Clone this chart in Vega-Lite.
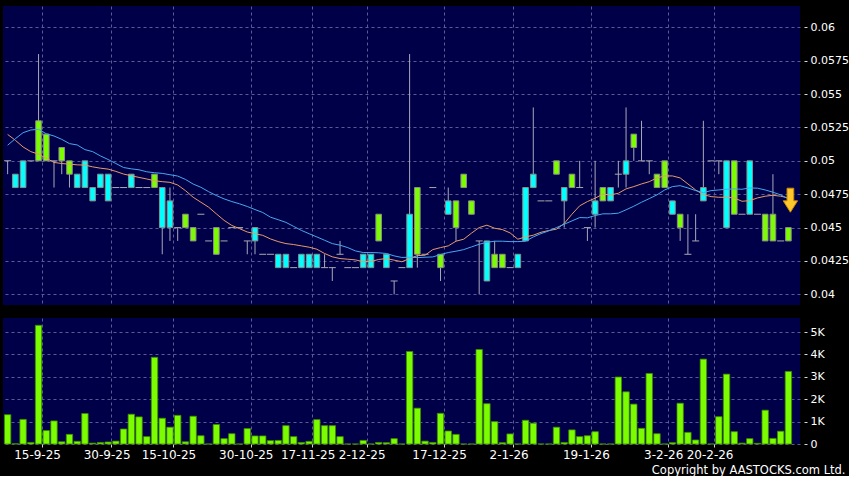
{
"$schema":"https://vega.github.io/schema/vega-lite/v6.json",
"padding":{"left":3,"top":6,"right":0,"bottom":0},
"background":"#000000",
"spacing":13,
"config":{"view":{"fill":"#000048","stroke":null},"font":"DejaVu Sans",
"axis":{"gridColor":"#5a5a96","gridDash":[3,3],"gridWidth":1,"labelColor":"#ffffff","tickColor":"#d8d8d8","domain":false,"labelFont":"DejaVu Sans","labelFontSize":11}},
"datasets":{"k":[
{"d":"9-9-25","o":0.05,"h":0.05,"l":0.049,"c":0.05,"v":1310,"m1":0.05198,"m2":0.05117},
{"d":"10-9-25","o":0.049,"h":0.049,"l":0.048,"c":0.048,"v":10,"m1":0.05154,"m2":0.05166},
{"d":"11-9-25","o":0.05,"h":0.05,"l":0.048,"c":0.048,"v":1100,"m1":0.05104,"m2":0.05211},
{"d":"12-9-25","o":0.05,"h":0.05,"l":0.05,"c":0.05,"v":70,"m1":0.05069,"m2":0.05231},
{"d":"15-9-25","o":0.05,"h":0.058,"l":0.05,"c":0.053,"v":5300,"m1":0.0505,"m2":0.05236},
{"d":"16-9-25","o":0.05,"h":0.052,"l":0.05,"c":0.052,"v":600,"m1":0.0502,"m2":0.05203},
{"d":"17-9-25","o":0.05,"h":0.05,"l":0.048,"c":0.05,"v":1030,"m1":0.04988,"m2":0.05186},
{"d":"18-9-25","o":0.05,"h":0.051,"l":0.049,"c":0.051,"v":100,"m1":0.0498,"m2":0.05161},
{"d":"19-9-25","o":0.049,"h":0.05,"l":0.048,"c":0.05,"v":430,"m1":0.04975,"m2":0.05129},
{"d":"22-9-25","o":0.049,"h":0.049,"l":0.048,"c":0.048,"v":120,"m1":0.0497,"m2":0.05119},
{"d":"23-9-25","o":0.05,"h":0.05,"l":0.048,"c":0.048,"v":1360,"m1":0.04968,"m2":0.05084},
{"d":"25-9-25","o":0.048,"h":0.048,"l":0.047,"c":0.047,"v":40,"m1":0.04955,"m2":0.05069},
{"d":"26-9-25","o":0.049,"h":0.049,"l":0.048,"c":0.048,"v":70,"m1":0.04945,"m2":0.05037},
{"d":"30-9-25","o":0.049,"h":0.049,"l":0.047,"c":0.047,"v":90,"m1":0.04938,"m2":0.0501},
{"d":"2-10-25","o":0.048,"h":0.048,"l":0.048,"c":0.048,"v":130,"m1":0.04921,"m2":0.0498},
{"d":"3-10-25","o":0.048,"h":0.048,"l":0.048,"c":0.048,"v":670,"m1":0.04901,"m2":0.0495},
{"d":"6-10-25","o":0.049,"h":0.049,"l":0.048,"c":0.048,"v":1330,"m1":0.04888,"m2":0.0494},
{"d":"8-10-25","o":0.048,"h":0.048,"l":0.048,"c":0.048,"v":1210,"m1":0.04876,"m2":0.04933},
{"d":"9-10-25","o":0.048,"h":0.048,"l":0.048,"c":0.048,"v":330,"m1":0.04864,"m2":0.04918},
{"d":"10-10-25","o":0.048,"h":0.049,"l":0.048,"c":0.049,"v":3870,"m1":0.04851,"m2":0.04911},
{"d":"13-10-25","o":0.048,"h":0.048,"l":0.043,"c":0.045,"v":1150,"m1":0.04844,"m2":0.04906},
{"d":"15-10-25","o":0.047,"h":0.048,"l":0.044,"c":0.045,"v":750,"m1":0.04839,"m2":0.04896},
{"d":"16-10-25","o":0.045,"h":0.045,"l":0.044,"c":0.045,"v":1280,"m1":0.04819,"m2":0.04886},
{"d":"17-10-25","o":0.045,"h":0.046,"l":0.045,"c":0.046,"v":100,"m1":0.04777,"m2":0.04861},
{"d":"20-10-25","o":0.044,"h":0.045,"l":0.044,"c":0.045,"v":1240,"m1":0.04727,"m2":0.04826},
{"d":"21-10-25","o":0.046,"h":0.046,"l":0.046,"c":0.046,"v":370,"m1":0.0469,"m2":0.04802},
{"d":"22-10-25","o":0.044,"h":0.044,"l":0.044,"c":0.044,"v":0,"m1":0.04653,"m2":0.04769},
{"d":"23-10-25","o":0.043,"h":0.045,"l":0.043,"c":0.045,"v":870,"m1":0.04603,"m2":0.0474},
{"d":"24-10-25","o":0.044,"h":0.044,"l":0.044,"c":0.044,"v":240,"m1":0.04554,"m2":0.04715},
{"d":"27-10-25","o":0.045,"h":0.045,"l":0.045,"c":0.045,"v":460,"m1":0.04516,"m2":0.04695},
{"d":"28-10-25","o":0.045,"h":0.045,"l":0.045,"c":0.045,"v":0,"m1":0.04492,"m2":0.04678},
{"d":"30-10-25","o":0.044,"h":0.044,"l":0.043,"c":0.044,"v":690,"m1":0.04467,"m2":0.04658},
{"d":"31-10-25","o":0.045,"h":0.045,"l":0.043,"c":0.044,"v":360,"m1":0.04454,"m2":0.04635},
{"d":"3-11-25","o":0.043,"h":0.043,"l":0.043,"c":0.043,"v":360,"m1":0.04442,"m2":0.04613},
{"d":"4-11-25","o":0.043,"h":0.043,"l":0.043,"c":0.043,"v":150,"m1":0.04415,"m2":0.04578},
{"d":"6-11-25","o":0.043,"h":0.043,"l":0.042,"c":0.042,"v":160,"m1":0.04395,"m2":0.04559},
{"d":"10-11-25","o":0.043,"h":0.043,"l":0.042,"c":0.042,"v":820,"m1":0.0438,"m2":0.04539},
{"d":"12-11-25","o":0.042,"h":0.042,"l":0.042,"c":0.042,"v":330,"m1":0.04373,"m2":0.04509},
{"d":"14-11-25","o":0.043,"h":0.043,"l":0.042,"c":0.042,"v":70,"m1":0.04363,"m2":0.04479},
{"d":"17-11-25","o":0.043,"h":0.043,"l":0.042,"c":0.042,"v":120,"m1":0.04353,"m2":0.04454},
{"d":"19-11-25","o":0.043,"h":0.043,"l":0.042,"c":0.042,"v":1090,"m1":0.04338,"m2":0.0443},
{"d":"20-11-25","o":0.042,"h":0.043,"l":0.042,"c":0.042,"v":820,"m1":0.04306,"m2":0.04405},
{"d":"24-11-25","o":0.042,"h":0.042,"l":0.041,"c":0.042,"v":820,"m1":0.04281,"m2":0.0438},
{"d":"26-11-25","o":0.043,"h":0.044,"l":0.043,"c":0.043,"v":330,"m1":0.04268,"m2":0.04368},
{"d":"28-11-25","o":0.042,"h":0.042,"l":0.042,"c":0.042,"v":0,"m1":0.04263,"m2":0.0435},
{"d":"1-12-25","o":0.042,"h":0.042,"l":0.042,"c":0.042,"v":0,"m1":0.04258,"m2":0.04325},
{"d":"2-12-25","o":0.043,"h":0.043,"l":0.042,"c":0.042,"v":160,"m1":0.04244,"m2":0.04313},
{"d":"3-12-25","o":0.043,"h":0.043,"l":0.042,"c":0.042,"v":0,"m1":0.04246,"m2":0.04313},
{"d":"4-12-25","o":0.044,"h":0.046,"l":0.044,"c":0.046,"v":70,"m1":0.04261,"m2":0.04311},
{"d":"5-12-25","o":0.043,"h":0.043,"l":0.042,"c":0.042,"v":60,"m1":0.04268,"m2":0.04306},
{"d":"8-12-25","o":0.041,"h":0.041,"l":0.04,"c":0.041,"v":240,"m1":0.04256,"m2":0.04288},
{"d":"9-12-25","o":0.042,"h":0.042,"l":0.042,"c":0.042,"v":0,"m1":0.04244,"m2":0.04276},
{"d":"10-12-25","o":0.046,"h":0.058,"l":0.042,"c":0.042,"v":4130,"m1":0.04268,"m2":0.04278},
{"d":"11-12-25","o":0.043,"h":0.048,"l":0.042,"c":0.048,"v":1600,"m1":0.0429,"m2":0.04275},
{"d":"12-12-25","o":0.043,"h":0.043,"l":0.043,"c":0.043,"v":130,"m1":0.04293,"m2":0.04278},
{"d":"15-12-25","o":0.048,"h":0.048,"l":0.048,"c":0.048,"v":70,"m1":0.04335,"m2":0.0428},
{"d":"17-12-25","o":0.042,"h":0.043,"l":0.041,"c":0.043,"v":1370,"m1":0.0435,"m2":0.04298},
{"d":"18-12-25","o":0.047,"h":0.048,"l":0.046,"c":0.046,"v":580,"m1":0.04363,"m2":0.04313},
{"d":"19-12-25","o":0.045,"h":0.047,"l":0.044,"c":0.047,"v":430,"m1":0.04398,"m2":0.04323},
{"d":"22-12-25","o":0.048,"h":0.049,"l":0.048,"c":0.049,"v":0,"m1":0.04413,"m2":0.04335},
{"d":"23-12-25","o":0.046,"h":0.047,"l":0.046,"c":0.047,"v":0,"m1":0.04458,"m2":0.04355},
{"d":"24-12-25","o":0.044,"h":0.044,"l":0.04,"c":0.044,"v":4220,"m1":0.045,"m2":0.04375},
{"d":"29-12-25","o":0.044,"h":0.044,"l":0.041,"c":0.041,"v":1800,"m1":0.04518,"m2":0.0439},
{"d":"30-12-25","o":0.042,"h":0.044,"l":0.042,"c":0.043,"v":1000,"m1":0.04495,"m2":0.04398},
{"d":"31-12-25","o":0.042,"h":0.043,"l":0.042,"c":0.043,"v":60,"m1":0.04485,"m2":0.04398},
{"d":"2-1-26","o":0.042,"h":0.042,"l":0.042,"c":0.042,"v":450,"m1":0.0446,"m2":0.04395},
{"d":"5-1-26","o":0.043,"h":0.043,"l":0.042,"c":0.042,"v":0,"m1":0.04413,"m2":0.04395},
{"d":"6-1-26","o":0.048,"h":0.048,"l":0.044,"c":0.044,"v":1060,"m1":0.0443,"m2":0.04398},
{"d":"7-1-26","o":0.049,"h":0.054,"l":0.048,"c":0.048,"v":930,"m1":0.04443,"m2":0.0443},
{"d":"8-1-26","o":0.047,"h":0.047,"l":0.047,"c":0.047,"v":0,"m1":0.04465,"m2":0.04455},
{"d":"9-1-26","o":0.047,"h":0.047,"l":0.047,"c":0.047,"v":0,"m1":0.04478,"m2":0.04475},
{"d":"12-1-26","o":0.049,"h":0.05,"l":0.049,"c":0.05,"v":750,"m1":0.04488,"m2":0.045},
{"d":"13-1-26","o":0.048,"h":0.048,"l":0.045,"c":0.047,"v":70,"m1":0.0453,"m2":0.04525},
{"d":"14-1-26","o":0.048,"h":0.049,"l":0.048,"c":0.049,"v":630,"m1":0.046,"m2":0.0455},
{"d":"15-1-26","o":0.048,"h":0.05,"l":0.048,"c":0.048,"v":330,"m1":0.04663,"m2":0.04575},
{"d":"19-1-26","o":0.045,"h":0.045,"l":0.044,"c":0.045,"v":370,"m1":0.04695,"m2":0.04573},
{"d":"20-1-26","o":0.047,"h":0.05,"l":0.045,"c":0.046,"v":550,"m1":0.0472,"m2":0.0459},
{"d":"21-1-26","o":0.047,"h":0.048,"l":0.047,"c":0.048,"v":0,"m1":0.0475,"m2":0.04603},
{"d":"22-1-26","o":0.048,"h":0.048,"l":0.047,"c":0.047,"v":0,"m1":0.04745,"m2":0.04603},
{"d":"23-1-26","o":0.049,"h":0.05,"l":0.048,"c":0.049,"v":2990,"m1":0.04757,"m2":0.04608},
{"d":"26-1-26","o":0.05,"h":0.054,"l":0.048,"c":0.049,"v":2330,"m1":0.0479,"m2":0.04633},
{"d":"27-1-26","o":0.051,"h":0.052,"l":0.05,"c":0.052,"v":1780,"m1":0.04807,"m2":0.0466},
{"d":"28-1-26","o":0.05,"h":0.053,"l":0.05,"c":0.05,"v":700,"m1":0.04827,"m2":0.0469},
{"d":"29-1-26","o":0.05,"h":0.05,"l":0.049,"c":0.05,"v":3150,"m1":0.04844,"m2":0.04717},
{"d":"30-1-26","o":0.048,"h":0.049,"l":0.048,"c":0.049,"v":460,"m1":0.04872,"m2":0.04745},
{"d":"3-2-26","o":0.048,"h":0.05,"l":0.048,"c":0.05,"v":0,"m1":0.04887,"m2":0.04782},
{"d":"5-2-26","o":0.047,"h":0.047,"l":0.046,"c":0.046,"v":60,"m1":0.04887,"m2":0.04807},
{"d":"9-2-26","o":0.045,"h":0.046,"l":0.044,"c":0.046,"v":1820,"m1":0.04872,"m2":0.04814},
{"d":"11-2-26","o":0.043,"h":0.046,"l":0.043,"c":0.043,"v":520,"m1":0.04827,"m2":0.04797},
{"d":"13-2-26","o":0.044,"h":0.046,"l":0.044,"c":0.044,"v":180,"m1":0.04782,"m2":0.04777},
{"d":"16-2-26","o":0.048,"h":0.053,"l":0.047,"c":0.047,"v":3790,"m1":0.04747,"m2":0.04762},
{"d":"20-2-26","o":0.05,"h":0.05,"l":0.05,"c":0.05,"v":0,"m1":0.04732,"m2":0.04777},
{"d":"23-2-26","o":0.05,"h":0.05,"l":0.049,"c":0.05,"v":1220,"m1":0.04727,"m2":0.04782},
{"d":"24-2-26","o":0.05,"h":0.05,"l":0.045,"c":0.045,"v":3120,"m1":0.04727,"m2":0.04787},
{"d":"25-2-26","o":0.046,"h":0.05,"l":0.046,"c":0.05,"v":550,"m1":0.04722,"m2":0.0479},
{"d":"26-2-26","o":0.046,"h":0.046,"l":0.046,"c":0.046,"v":40,"m1":0.04697,"m2":0.04787},
{"d":"27-2-26","o":0.05,"h":0.05,"l":0.046,"c":0.046,"v":240,"m1":0.04702,"m2":0.04797},
{"d":"2-3-26","o":0.046,"h":0.046,"l":0.046,"c":0.046,"v":30,"m1":0.04722,"m2":0.04795},
{"d":"3-3-26","o":0.044,"h":0.046,"l":0.044,"c":0.046,"v":1510,"m1":0.04735,"m2":0.04782},
{"d":"4-3-26","o":0.044,"h":0.049,"l":0.044,"c":0.046,"v":250,"m1":0.04742,"m2":0.04765},
{"d":"5-3-26","o":0.044,"h":0.044,"l":0.044,"c":0.044,"v":570,"m1":0.04735,"m2":0.04745},
{"d":"6-3-26","o":0.044,"h":0.045,"l":0.044,"c":0.045,"v":3240,"m1":0.04722,"m2":0.04715,"arrow":0.04705}
]},
"vconcat":[
{"width":797,"height":299,"data":{"name":"k"},
"encoding":{"x":{"field":"d","type":"ordinal","sort":null,"scale":{"paddingInner":0,"paddingOuter":0.55,"align":0.09},
"axis":{"values":["15-9-25","30-9-25","15-10-25","30-10-25","17-11-25","2-12-25","17-12-25","2-1-26","19-1-26","3-2-26","20-2-26"],"bandPosition":1,"labels":false,"ticks":false,"grid":true,"title":null,"domain":false}}},
"resolve":{"axis":{"y":"independent"}},
"layer":[
{"mark":{"type":"rule","color":"#a8a8b8","strokeWidth":1},
"encoding":{"y":{"field":"l","type":"quantitative","scale":{"domain":[0.0392,0.0616],"nice":false,"zero":false},
"axis":{"orient":"right","values":[0.04,0.0425,0.045,0.0475,0.05,0.0525,0.055,0.0575,0.06],"format":".4~f","offset":4,"tickSize":3,"labelPadding":3,"grid":true,"title":null}},
"y2":{"field":"h"}}},
{"transform":[{"filter":"datum.o != datum.c"}],
"mark":{"type":"bar","size":5.6,"stroke":"#8c8c8c","strokeWidth":1},
"encoding":{"y":{"field":"o","type":"quantitative","scale":{"domain":[0.0392,0.0616],"nice":false,"zero":false},"axis":null},"y2":{"field":"c"},
"color":{"condition":{"test":"datum.c > datum.o","value":"#7cfc00"},"value":"#00ffff"}}},
{"transform":[{"filter":"datum.o == datum.c"}],
"mark":{"type":"tick","size":7,"thickness":1,"color":"#a8a8b0","opacity":1},
"encoding":{"y":{"field":"c","type":"quantitative","scale":{"domain":[0.0392,0.0616],"nice":false,"zero":false},"axis":null}}},
{"mark":{"type":"line","color":"#e89a68","strokeWidth":1},
"encoding":{"y":{"field":"m1","type":"quantitative","scale":{"domain":[0.0392,0.0616],"nice":false,"zero":false},"axis":null}}},
{"mark":{"type":"line","color":"#46a8f0","strokeWidth":1},
"encoding":{"y":{"field":"m2","type":"quantitative","scale":{"domain":[0.0392,0.0616],"nice":false,"zero":false},"axis":null}}},
{"mark":{"type":"point","shape":"M-0.28,-1L0.28,-1L0.28,0.05L0.6,0.05L0,1L-0.6,0.05L-0.28,0.05Z","size":576,"filled":true,"fill":"#ffc72c","stroke":"#c88a00","strokeWidth":1,"opacity":1,"xOffset":2},
"encoding":{"y":{"field":"arrow","type":"quantitative","scale":{"domain":[0.0392,0.0616],"nice":false,"zero":false},"axis":null}}}
]},
{"width":797,"height":126,"data":{"name":"k"},
"mark":{"type":"bar","size":6.4,"color":"#7cfc00","stroke":"#3d8a00","strokeWidth":0.8},
"encoding":{"x":{"field":"d","type":"ordinal","sort":null,"scale":{"paddingInner":0,"paddingOuter":0.55,"align":0.09},
"axis":{"values":["15-9-25","30-9-25","15-10-25","30-10-25","17-11-25","2-12-25","17-12-25","2-1-26","19-1-26","3-2-26","20-2-26"],"bandPosition":1,"labelOffset":-1,"labelAngle":0,"labelFontSize":12,"labelPadding":2,"tickSize":3,"grid":true,"domain":false,"labelOverlap":false,"labelBound":false,
"title":"Copyright by AASTOCKS.com Ltd.","titleX":842,"titleY":20,"titleAlign":"right","titleAnchor":"end","titleBaseline":"top","titleColor":"#ffffff","titleFontSize":11.5,"titleFontWeight":"normal","titleFont":"DejaVu Sans"}},
"y":{"field":"v","type":"quantitative","scale":{"domain":[0,5625],"nice":false},
"axis":{"orient":"right","values":[0,1000,2000,3000,4000,5000],"labelExpr":"datum.value == 0 ? '0' : (datum.value/1000) + 'K'","offset":4,"tickSize":3,"labelPadding":3,"grid":true,"title":null}}}}
]
}
